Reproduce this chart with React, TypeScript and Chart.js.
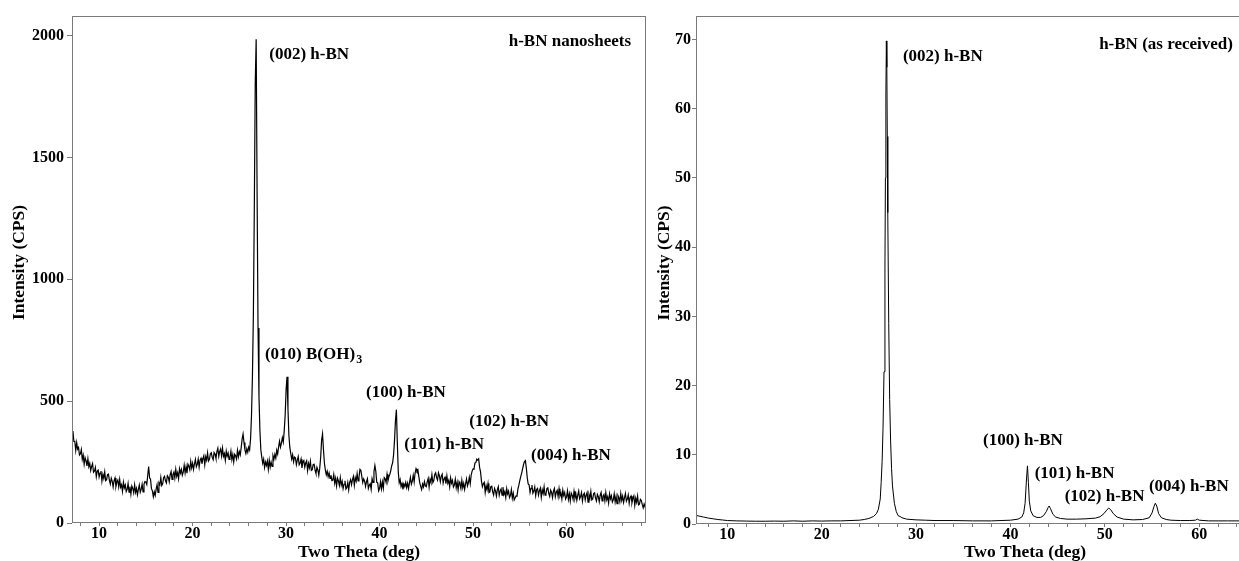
import React, { useEffect, useRef } from 'react';
import { Chart, registerables } from 'chart.js';

Chart.register(...registerables);

const FONT = '"Liberation Serif", "Times New Roman", serif';

// ---------- Left panel: h-BN nanosheets (scan 7.0–68.5° 2θ, 0.1° step) ----------
const NANO_THETA_START = 7.0;
const NANO_THETA_STEP = 0.1;
const NANO_CPS: number[] = [
  394, 355, 377, 335, 335, 298, 330, 303, 310, 279, // 7
  284, 302, 261, 278, 241, 268, 255, 234, 264, 231, // 8
  245, 215, 232, 244, 208, 213, 228, 190, 213, 217, // 9
  189, 205, 213, 172, 200, 183, 210, 174, 178, 198, // 10
  200, 175, 160, 184, 172, 148, 174, 185, 150, 168, // 11
  176, 148, 179, 147, 157, 130, 167, 144, 156, 129, // 12
  138, 162, 127, 149, 118, 152, 142, 124, 157, 126, // 13
  142, 116, 138, 156, 126, 138, 159, 128, 159, 170, // 14
  168, 158, 196, 232, 185, 180, 141, 132, 108, 128, // 15
  113, 139, 157, 126, 165, 157, 187, 154, 161, 186, // 16
  192, 173, 164, 194, 188, 169, 198, 211, 179, 199, // 17
  209, 184, 220, 191, 206, 182, 223, 205, 220, 196, // 18
  209, 237, 205, 231, 204, 241, 233, 218, 253, 226, // 19
  245, 220, 243, 261, 231, 241, 262, 229, 258, 266, // 20
  243, 263, 276, 239, 272, 258, 288, 254, 261, 284, // 21
  288, 269, 260, 289, 283, 265, 293, 307, 274, 294, // 22
  304, 275, 307, 274, 285, 257, 295, 274, 287, 261, // 23
  271, 295, 260, 281, 250, 282, 276, 262, 298, 272, // 24
  293, 280, 310, 345, 365, 330, 300, 285, 305, 290, // 25
  311, 300, 345, 440, 600, 850, 1280, 1800, 1985, 1350, // 26
  800, 520, 380, 300, 270, 245, 262, 228, 250, 236, // 27
  254, 220, 258, 229, 250, 232, 276, 262, 282, 266, // 28
  299, 283, 312, 335, 311, 328, 350, 332, 378, 440, // 29
  545, 600, 470, 360, 310, 285, 262, 280, 251, 270, // 30
  267, 239, 258, 273, 239, 246, 262, 226, 251, 256, // 31
  229, 246, 255, 215, 244, 227, 253, 216, 219, 240, // 32
  241, 217, 203, 229, 218, 196, 225, 270, 340, 366, // 33
  300, 245, 218, 198, 212, 190, 205, 183, 196, 174, // 34
  176, 199, 163, 184, 152, 184, 173, 154, 186, 155, // 35
  171, 141, 159, 173, 139, 145, 166, 136, 167, 178, // 36
  157, 178, 191, 154, 186, 172, 203, 173, 188, 220, // 37
  216, 191, 166, 181, 172, 150, 170, 182, 142, 155, // 38
  161, 138, 182, 167, 210, 236, 212, 167, 165, 132, // 39
  141, 169, 140, 168, 143, 186, 181, 166, 200, 173, // 40
  190, 200, 215, 235, 248, 280, 340, 420, 465, 330, // 41
  210, 165, 178, 150, 162, 138, 160, 149, 166, 145, // 42
  163, 141, 166, 187, 159, 172, 196, 169, 205, 223, // 43
  212, 218, 190, 165, 150, 137, 160, 148, 170, 152, // 44
  149, 170, 183, 147, 180, 167, 198, 166, 174, 199, // 45
  206, 186, 176, 206, 194, 169, 192, 200, 164, 181, // 46
  188, 161, 194, 163, 175, 148, 185, 163, 175, 148, // 47
  156, 180, 145, 167, 136, 169, 159, 141, 175, 145, // 48
  163, 138, 161, 181, 152, 165, 188, 161, 197, 213, // 49
  222, 221, 246, 248, 262, 258, 263, 228, 210, 172, // 50
  149, 161, 167, 125, 153, 136, 162, 125, 128, 149, // 51
  151, 128, 115, 142, 132, 111, 137, 149, 114, 132, // 52
  140, 114, 147, 117, 129, 104, 141, 119, 131, 104, // 53
  113, 137, 101, 122, 95, 103, 111, 110, 140, 155, // 54
  174, 190, 205, 222, 240, 252, 256, 225, 185, 160, // 55
  156, 125, 142, 156, 122, 131, 148, 112, 137, 142, // 56
  115, 133, 144, 105, 136, 121, 149, 114, 119, 141, // 57
  144, 121, 109, 135, 126, 104, 131, 142, 108, 126, // 58
  134, 108, 141, 111, 123, 98, 135, 113, 125, 98, // 59
  107, 132, 97, 120, 90, 123, 114, 97, 130, 101, // 60
  119, 93, 114, 131, 99, 108, 125, 90, 116, 122, // 61
  95, 114, 125, 86, 117, 102, 130, 95, 99, 121, // 62
  124, 102, 90, 117, 108, 87, 114, 125, 91, 110, // 63
  117, 91, 125, 95, 108, 82, 120, 99, 112, 86, // 64
  95, 120, 86, 109, 79, 113, 104, 87, 121, 92, // 65
  110, 84, 104, 121, 89, 98, 115, 80, 105, 111, // 66
  83, 101, 111, 72, 102, 85, 111, 74, 77, 97, // 67
  92, 76, 62, 78, 66, 55, // 68.0–68.5
];
const NANO_X_RANGE = [7.1, 68.5];
const NANO_Y_RANGE = [0, 2080];
const NANO_X_TICKS = [8, 10, 12, 14, 16, 18, 20, 22, 24, 26, 28, 30, 32, 34, 36, 38, 40, 42, 44, 46, 48, 50, 52, 54, 56, 58, 60, 62, 64, 66, 68];
const NANO_Y_TICKS = [0, 500, 1000, 1500, 2000];
const NANO_LABELS = [
  { text: '(002) h-BN', x: 28.2, y: 1923, align: 'left' },
  { text: 'h-BN nanosheets', x: 66.9, y: 1976, align: 'right' },
  { text: '(010) B(OH)', sub: '3', x: 27.74, y: 692, align: 'left' },
  { text: '(100) h-BN', x: 38.55, y: 535, align: 'left' },
  { text: '(101) h-BN', x: 42.64, y: 322, align: 'left' },
  { text: '(102) h-BN', x: 49.6, y: 414, align: 'left' },
  { text: '(004) h-BN', x: 56.2, y: 275, align: 'left' },
];

// ---------- Right panel: h-BN as received ----------
const RAW_SCAN: [number, number][] = [
  [6.5, 1.3], [7.0, 1.15], [7.5, 1.0], [8.0, 0.85], [8.5, 0.75], [9.0, 0.65], [9.5, 0.58],
  [10, 0.5], [11, 0.45], [12, 0.42], [13, 0.4], [14, 0.4], [15, 0.42], [16, 0.4], [17, 0.45],
  [18, 0.4], [19, 0.45], [20, 0.42], [21, 0.45], [22, 0.45], [23, 0.5], [24, 0.55], [24.5, 0.65],
  [25, 0.8], [25.5, 1.1], [25.8, 1.5], [26.0, 2.1], [26.2, 3.6], [26.3, 6], [26.4, 9], [26.5, 14],
  [26.6, 22], [26.7, 37], [26.75, 50], [26.8, 62], [26.85, 69.8], [26.9, 66], [26.95, 56],
  [27.0, 45], [27.1, 29], [27.2, 18], [27.3, 12], [27.4, 8], [27.5, 5.5], [27.7, 3.0], [27.9, 1.8],
  [28.1, 1.2], [28.3, 1.1], [28.5, 0.9], [29, 0.7], [30, 0.6], [31, 0.55], [32, 0.5], [34, 0.5],
  [36, 0.45], [38, 0.45], [39, 0.5], [40, 0.55], [40.8, 0.7], [41.2, 1.0], [41.4, 1.6], [41.55, 3.0],
  [41.7, 6.5], [41.8, 8.4], [41.9, 6.0], [42.0, 3.3], [42.15, 1.9], [42.4, 1.2], [42.8, 0.95],
  [43.2, 0.95], [43.5, 1.2], [43.8, 1.8], [44.0, 2.4], [44.1, 2.6], [44.25, 2.2], [44.5, 1.4],
  [44.8, 1.0], [45.3, 0.8], [46, 0.7], [47, 0.7], [48, 0.75], [49, 0.85], [49.5, 1.05], [49.9, 1.5],
  [50.2, 2.0], [50.4, 2.3], [50.6, 2.1], [50.9, 1.5], [51.3, 1.0], [52, 0.7], [53, 0.6], [54, 0.65],
  [54.7, 0.9], [55.0, 1.6], [55.2, 2.5], [55.35, 3.0], [55.5, 2.6], [55.7, 1.5], [56.0, 0.9],
  [56.5, 0.65], [57, 0.55], [58, 0.5], [59, 0.5], [59.6, 0.55], [59.8, 0.7], [60.0, 0.55], [61, 0.45],
  [62, 0.45], [63, 0.45], [64, 0.45], [66, 0.4], [70, 0.4], [76, 0.4],
];
const RAW_X_RANGE = [6.68, 76.4];
const RAW_Y_RANGE = [0, 73.4];
const RAW_X_TICKS = [8, 10, 12, 14, 16, 18, 20, 22, 24, 26, 28, 30, 32, 34, 36, 38, 40, 42, 44, 46, 48, 50, 52, 54, 56, 58, 60, 62, 64, 66, 68, 70, 72, 74, 76];
const RAW_Y_TICKS = [0, 10, 20, 30, 40, 50, 60, 70];
const RAW_LABELS = [
  { text: '(002) h-BN', x: 28.6, y: 67.5, align: 'left' },
  { text: 'h-BN (as received)', x: 63.57, y: 69.2, align: 'right' },
  { text: '(100) h-BN', x: 37.09, y: 12.0, align: 'left' },
  { text: '(101) h-BN', x: 42.56, y: 7.22, align: 'left' },
  { text: '(102) h-BN', x: 45.74, y: 3.94, align: 'left' },
  { text: '(004) h-BN', x: 54.67, y: 5.39, align: 'left' },
];

const X_TITLE = 'Two Theta (deg)';
const Y_TITLE = 'Intensity (CPS)';
const FRAME_COLOR = '#7a7a7a';

const framePlugin = {
  id: 'xrdFrame',
  afterDraw(chart: any) {
    const { ctx, chartArea: a } = chart;
    const l = Math.round(a.left) + 0.5;
    const t = Math.round(a.top) + 0.5;
    const r = Math.round(a.right) - 0.5;
    const b = Math.round(a.bottom) - 0.5;
    ctx.save();
    ctx.strokeStyle = FRAME_COLOR;
    ctx.lineWidth = 1;
    ctx.strokeRect(l, t, r - l, b - t);
    ctx.restore();
  },
};

const labelPlugin = {
  id: 'xrdLabels',
  afterDraw(chart: any, _args: any, opts: any) {
    const { ctx, chartArea: a } = chart;
    const xs = chart.scales.x;
    const ys = chart.scales.y;
    ctx.save();
    ctx.fillStyle = '#000';
    ctx.textBaseline = 'middle';
    for (const lb of opts.labels || []) {
      const px = xs.getPixelForValue(lb.x);
      const py = ys.getPixelForValue(lb.y);
      ctx.font = `bold 17px ${FONT}`;
      ctx.textAlign = lb.align;
      ctx.fillText(lb.text, px, py);
      if (lb.sub) {
        const w = ctx.measureText(lb.text).width;
        ctx.font = `bold 12px ${FONT}`;
        ctx.textAlign = 'left';
        ctx.fillText(lb.sub, px + w + 1, py + 6);
      }
    }
    // vertical axis title, centred a little above the middle of the plot
    if (opts.yTitle) {
      ctx.font = `bold 17.5px ${FONT}`;
      ctx.textAlign = 'center';
      ctx.translate(opts.yTitle.x, (a.top + a.bottom) / 2 + opts.yTitle.dy);
      ctx.rotate(-Math.PI / 2);
      ctx.fillText(opts.yTitle.text, 0, 0);
    }
    ctx.restore();
  },
};

type PanelProps = {
  left: number;
  width: number;
  points: { x: number; y: number }[];
  xRange: number[];
  yRange: number[];
  xTicks: number[];
  yTicks: number[];
  labels: any[];
  yAxisWidth: number;
  xAxisHeight: number;
  padRight: number;
  yTickLen: number;
  yTickPad: number;
  yTitleX: number;
  lineWidth: number;
};

function XrdPanel(p: PanelProps) {
  const ref = useRef<HTMLCanvasElement>(null);
  useEffect(() => {
    const tickFont = { family: FONT, size: 16, weight: 'bold' as const, lineHeight: 1 };
    const titleFont = { family: FONT, size: 17.5, weight: 'bold' as const, lineHeight: 1 };
    const chart = new Chart(ref.current!, {
      type: 'line',
      data: {
        datasets: [
          {
            data: p.points,
            borderColor: '#000',
            borderWidth: p.lineWidth,
            pointRadius: 0,
            tension: 0,
            fill: false,
          },
        ],
      },
      options: {
        responsive: false,
        animation: false,
        events: [],
        parsing: false,
        normalized: true,
        layout: { padding: { top: 16, right: p.padRight, bottom: 0, left: 0 } },
        plugins: {
          legend: { display: false },
          tooltip: { enabled: false },
          xrdLabels: { labels: p.labels, yTitle: { text: Y_TITLE, x: p.yTitleX, dy: -7 } },
        } as any,
        scales: {
          x: {
            type: 'linear',
            min: p.xRange[0],
            max: p.xRange[1],
            afterBuildTicks: (ax: any) => {
              ax.ticks = p.xTicks.map((v) => ({ value: v }));
            },
            afterFit: (s: any) => {
              s.height = p.xAxisHeight;
            },
            ticks: {
              autoSkip: false,
              maxRotation: 0,
              padding: 0,
              color: '#000',
              font: tickFont,
              callback: (v: any) => (Number(v) % 10 === 0 ? String(v) : ''),
            },
            grid: { drawOnChartArea: false, drawTicks: true, tickLength: 3, color: FRAME_COLOR },
            border: { display: false },
            title: {
              display: true,
              text: X_TITLE,
              color: '#000',
              font: titleFont,
              padding: { top: 0, bottom: 0 },
            },
          },
          y: {
            type: 'linear',
            min: p.yRange[0],
            max: p.yRange[1],
            afterBuildTicks: (ax: any) => {
              ax.ticks = p.yTicks.map((v) => ({ value: v }));
            },
            afterFit: (s: any) => {
              s.width = p.yAxisWidth;
            },
            ticks: {
              autoSkip: false,
              padding: p.yTickPad,
              color: '#000',
              font: tickFont,
              callback: (v: any) => String(v),
            },
            grid: { drawOnChartArea: false, drawTicks: true, tickLength: p.yTickLen, color: FRAME_COLOR },
            border: { display: false },
            title: { display: false },
          },
        },
      } as any,
      plugins: [framePlugin, labelPlugin],
    });
    return () => chart.destroy();
  }, []);
  return (
    <div style={{ position: 'absolute', left: p.left, top: 0, width: p.width, height: 561 }}>
      <canvas ref={ref} width={p.width} height={561} style={{ display: 'block' }} />
    </div>
  );
}

export default function App() {
  const nanoPoints = NANO_CPS.map((c, i) => ({
    x: Math.round((NANO_THETA_START + i * NANO_THETA_STEP) * 10) / 10,
    y: c,
  }));
  const rawPoints = RAW_SCAN.map(([x, y]) => ({ x, y }));
  return (
    <div
      style={{
        position: 'fixed',
        left: 0,
        top: 0,
        width: 1239,
        height: 561,
        overflow: 'hidden',
        background: '#fff',
      }}
    >
      <XrdPanel
        left={0}
        width={650}
        points={nanoPoints}
        xRange={NANO_X_RANGE}
        yRange={NANO_Y_RANGE}
        xTicks={NANO_X_TICKS}
        yTicks={NANO_Y_TICKS}
        labels={NANO_LABELS}
        yAxisWidth={72}
        xAxisHeight={38}
        padRight={4}
        yTickLen={5}
        yTickPad={3}
        yTitleX={19.5}
        lineWidth={1.2}
      />
      <XrdPanel
        left={650}
        width={720}
        points={rawPoints}
        xRange={RAW_X_RANGE}
        yRange={RAW_Y_RANGE}
        xTicks={RAW_X_TICKS}
        yTicks={RAW_Y_TICKS}
        labels={RAW_LABELS}
        yAxisWidth={46}
        xAxisHeight={37}
        padRight={16}
        yTickLen={4}
        yTickPad={1}
        yTitleX={14}
        lineWidth={1}
      />
    </div>
  );
}
